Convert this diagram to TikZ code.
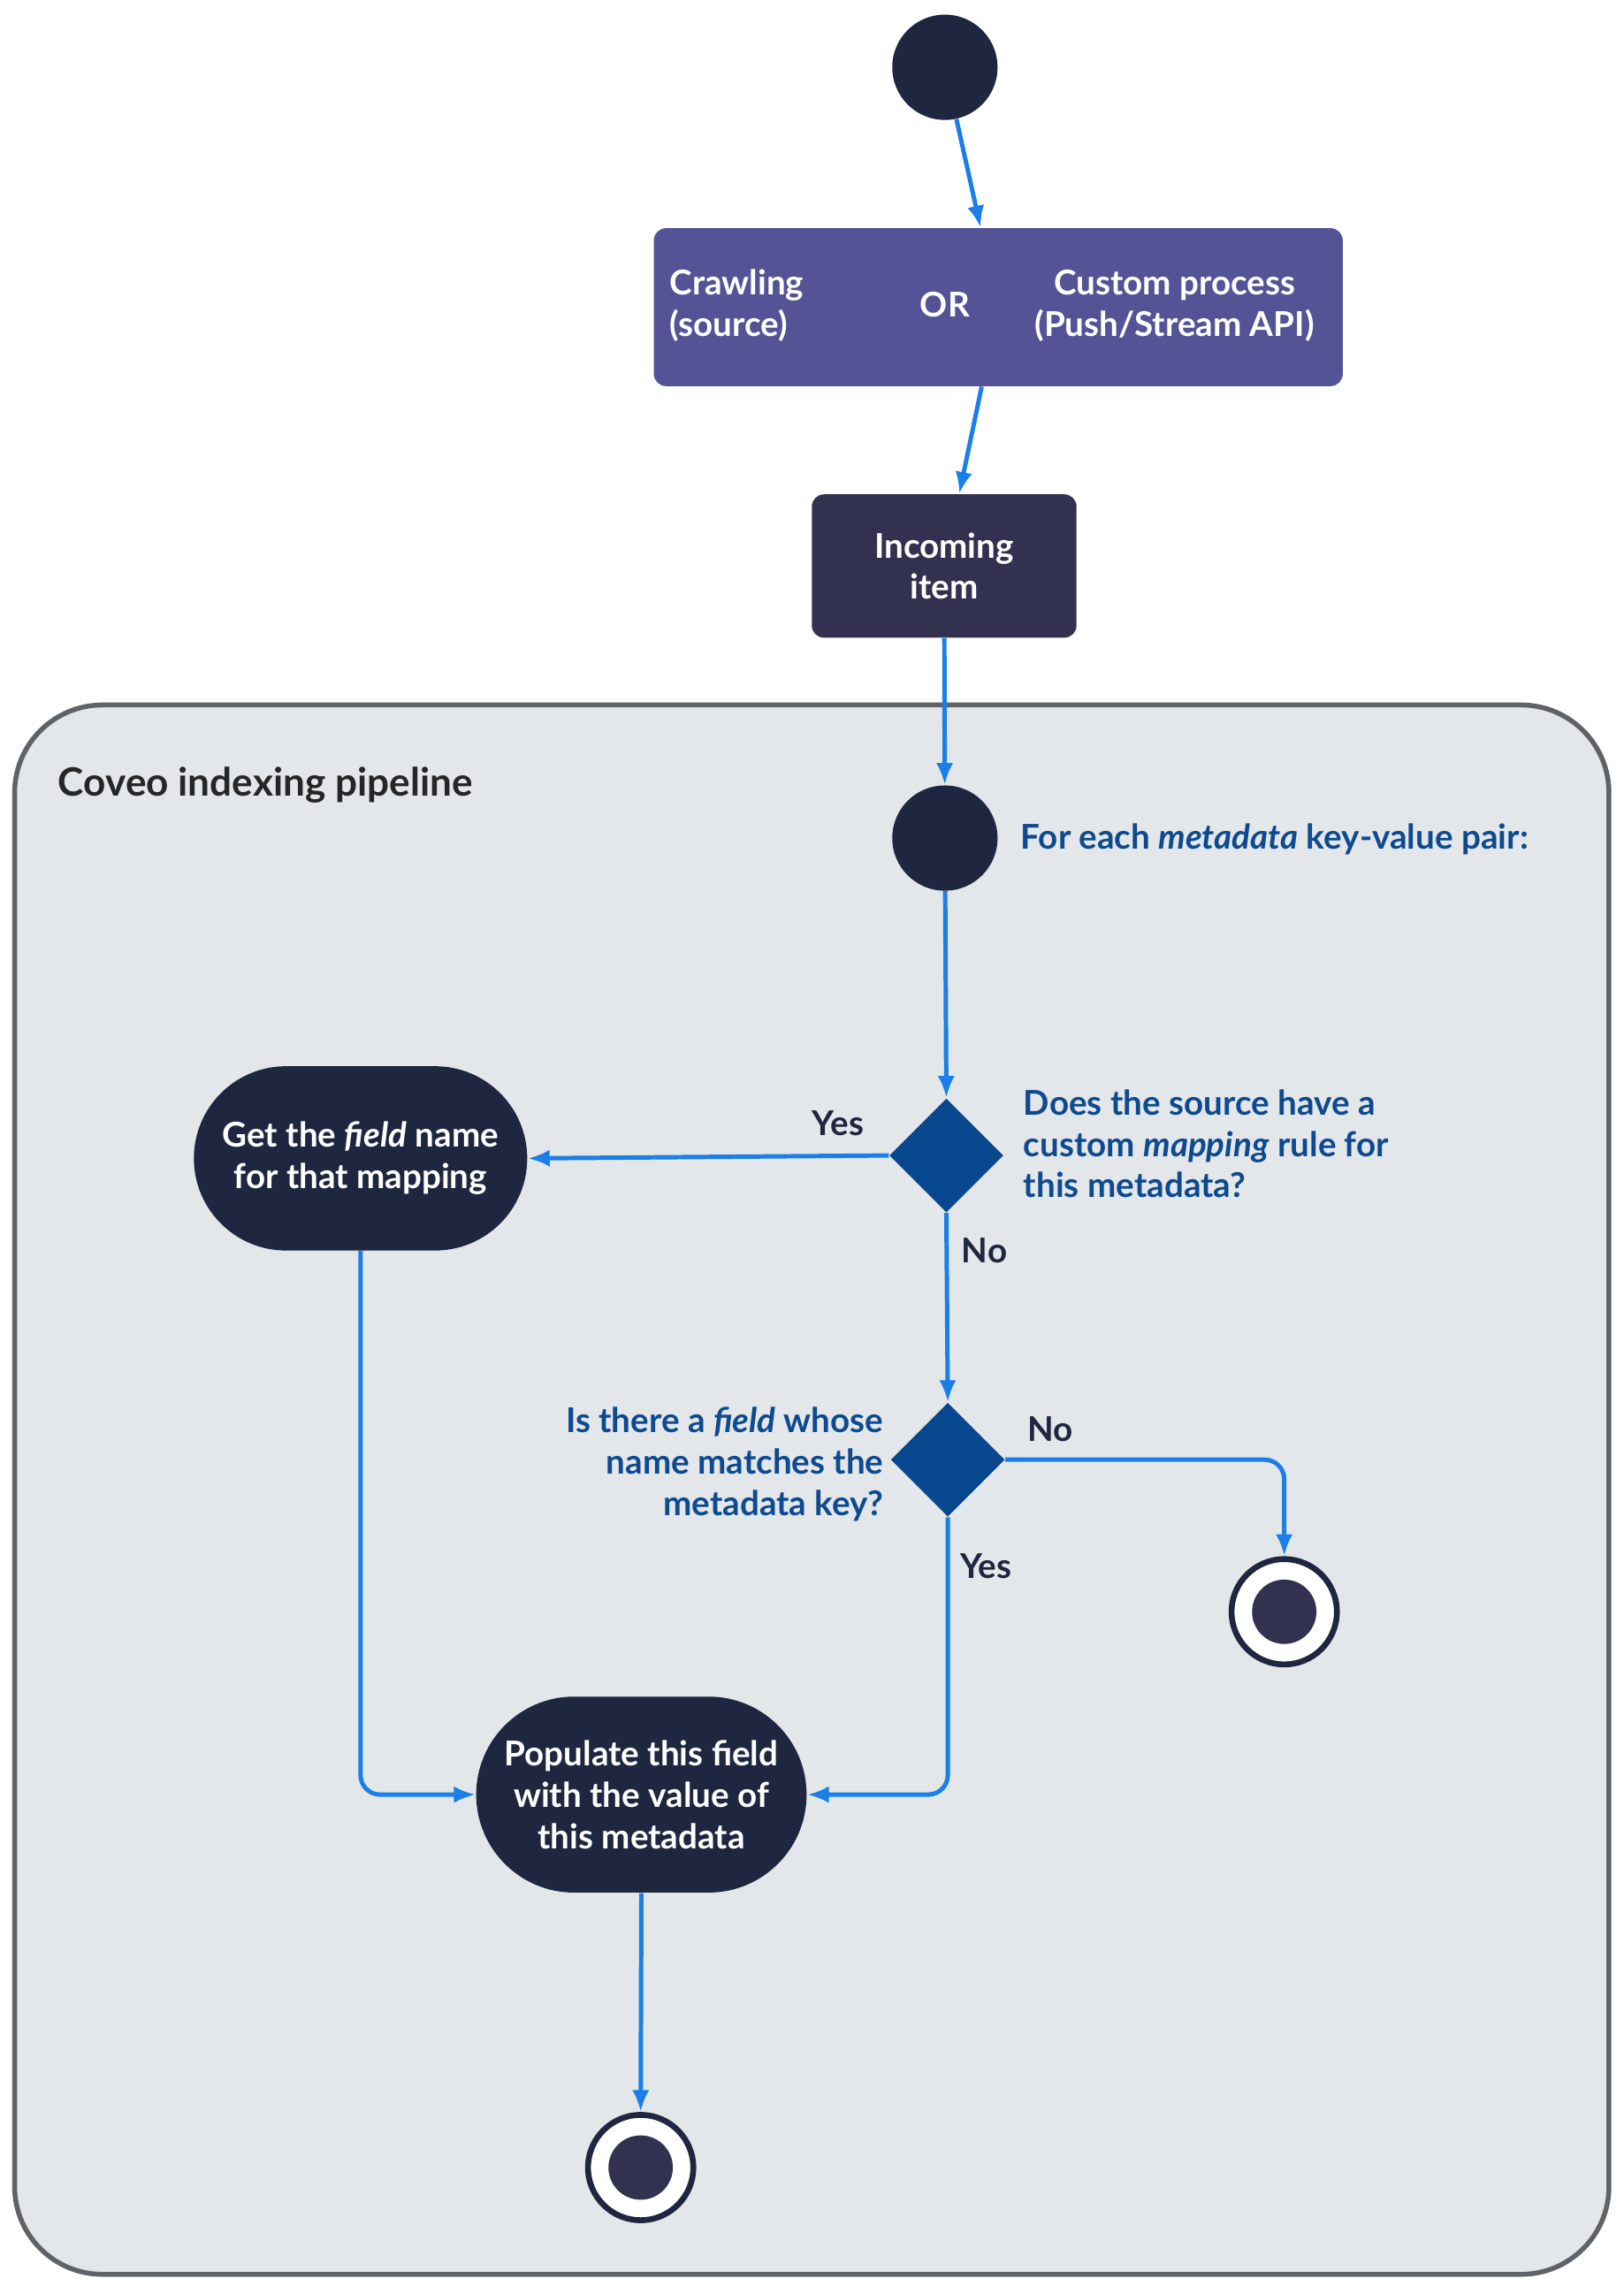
\documentclass[tikz,border=0pt]{standalone}
\usepackage{fontspec}
\setmainfont{Lato}
\usetikzlibrary{arrows.meta,shapes.geometric,shapes.misc}
\definecolor{navy}{HTML}{1E2640}
\definecolor{purp}{HTML}{535396}
\definecolor{inc}{HTML}{32314F}
\definecolor{pipe}{HTML}{E3E7EA}
\definecolor{pipeb}{HTML}{5F6368}
\definecolor{lbl}{HTML}{0D4A8F}
\definecolor{arr}{HTML}{1A7FE8}
\definecolor{dia}{HTML}{07478E}
\begin{document}
\begin{tikzpicture}[x=0.6pt,y=-0.6pt,
  font=\fontsize{14}{17}\selectfont\bfseries,
  startc/.style={circle,fill=navy,minimum size=72*0.6pt,inner sep=0},
  endc/.style={circle,draw=navy,line width=2.4pt,fill=white,minimum size=72*0.6pt,inner sep=0},
  endin/.style={circle,fill=inc,minimum size=44*0.6pt,inner sep=0},
  stad/.style={rounded rectangle,fill=navy,text=white,align=center},
  dia/.style={diamond,fill=dia,minimum size=78*0.6pt,inner sep=0},
  con/.style={draw=arr,line width=1.8pt,-{Latex[length=9pt,width=7pt]},rounded corners=8pt},
  lab/.style={text=lbl,align=left},
  yn/.style={text=navy}]
\useasboundingbox (0,0) rectangle (1110,1563);
\node[startc] (s0) at (646,46) {};
\node[fill=purp,rounded corners=5pt,minimum width=471*0.6pt,minimum height=108*0.6pt] (src) at (682.5,210) {};
\node[text=white,align=left,anchor=west] (crawl) at (452,209) {Crawling\\(source)};
\node[text=white] (or) at (646,208) {OR};
\node[text=white,align=center] (cust) at (803,209) {Custom process\\(Push/Stream API)};
\node[fill=inc,rounded corners=5pt,minimum width=181*0.6pt,minimum height=98*0.6pt,text=white,align=center] (inc) at (645.5,387) {Incoming\\item};
\node[draw=pipeb,fill=pipe,line width=2pt,rounded corners=36pt,minimum width=1090*0.6pt,minimum height=1073*0.6pt] (pipe) at (555,1018.5) {};
\node[anchor=west,text=black!85,font=\fontsize{16}{19}\selectfont\bfseries] (title) at (34,537) {Coveo indexing pipeline};
\node[startc] (s1) at (646,573) {};
\node[lab,anchor=west] (t1) at (692,574) {For each \textit{metadata} key-value pair:};
\node[dia] (d1) at (647,790) {};
\node[lab,anchor=west] (t2) at (694,782) {Does the source have a\\custom \textit{mapping} rule for\\this metadata?};
\node[stad,minimum width=239*0.6pt,minimum height=126*0.6pt] (get) at (246.5,792) {Get the \textit{field} name\\for that mapping};
\node[dia] (d2) at (648,998) {};
\node[text=lbl,align=right,anchor=east] (t3) at (610,1001) {Is there a \textit{field} whose\\name matches the\\metadata key?};
\node[endc] (e1) at (878,1102) {};
\node[endin] (e1i) at (878,1102) {};
\node[stad,minimum width=237*0.6pt,minimum height=134*0.6pt] (pop) at (438.5,1227) {Populate this field\\with the value of\\this metadata};
\node[endc] (e2) at (438,1482) {};
\node[endin] (e2i) at (438,1482) {};
\node[yn] (y1) at (573,768) {Yes};
\node[yn] (n1) at (673,855) {No};
\node[yn] (n2) at (718,977) {No};
\node[yn] (y2) at (674,1071) {Yes};
\draw[con] (s0) -- (src);
\draw[con] (src) -- (inc);
\draw[con] (inc) -- (s1);
\draw[con] (s1) -- (d1.north);
\draw[con] (d1.west) -- (get.east);
\draw[con] (d1.south) -- (d2.north);
\draw[con] (d2.east) -| (e1.north);
\draw[con] (get.south) |- (pop.west);
\draw[con] (d2.south) |- (pop.east);
\draw[con] (pop.south) -- (e2.north);
\end{tikzpicture}
\end{document}
